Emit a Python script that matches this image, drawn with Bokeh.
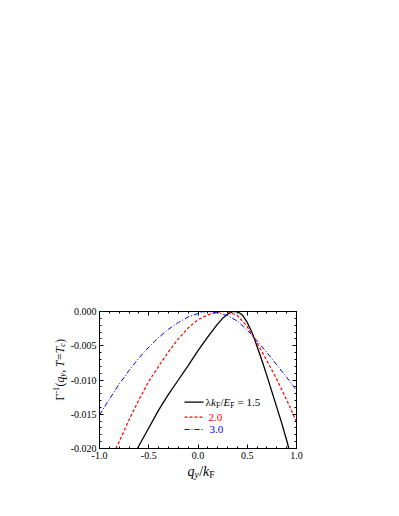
import math
from bokeh.plotting import figure
from bokeh.models import (Range1d, LinearAxis, SingleIntervalTicker, PrintfTickFormatter,
                          Label, Arrow)
from bokeh.embed import file_html
from bokeh.resources import INLINE

# ---------------- data ----------------
x_15 = [-0.614, -0.6, -0.5, -0.4, -0.3, -0.2, -0.1, 0.0, 0.1, 0.2, 0.25, 0.3, 0.35, 0.38, 0.41,
        0.44, 0.46, 0.50, 0.55, 0.60, 0.65, 0.70, 0.75, 0.80, 0.85, 0.90, 0.922]
y_15 = [-0.0200, -0.0196, -0.0170, -0.0144, -0.0121, -0.0100, -0.0079, -0.0057, -0.0037, -0.0018,
        -0.0010, -0.0004, -0.00003, 0.0, -0.0001, -0.0004, -0.0007, -0.0016, -0.0031, -0.0051,
        -0.0072, -0.0094, -0.0117, -0.0140, -0.0163, -0.0188, -0.0200]

x_20 = [-0.834, -0.8, -0.7, -0.6, -0.5, -0.4, -0.3, -0.2, -0.1, 0.0, 0.1, 0.2, 0.28, 0.3, 0.4,
        0.5, 0.6, 0.7, 0.8, 0.9, 1.0]
y_20 = [-0.0200, -0.0190, -0.0158, -0.0129, -0.0102, -0.0080, -0.0059, -0.0040, -0.0024, -0.0012,
        -0.0005, -0.0001, 0.0, -0.00002, -0.0006, -0.0022, -0.0046, -0.0072, -0.0099, -0.0129,
        -0.0161]

x_30 = [-1.0, -0.9, -0.8, -0.7, -0.6, -0.5, -0.4, -0.3, -0.2, -0.1, 0.0, 0.08, 0.2, 0.3, 0.4,
        0.5, 0.6, 0.7, 0.8, 0.9, 1.0]
y_30 = [-0.0151, -0.0128, -0.0106, -0.0086, -0.0068, -0.0052, -0.0038, -0.0026, -0.0016, -0.0008,
        -0.0003, 0.0, -0.0002, -0.0006, -0.0014, -0.0027, -0.0043, -0.0060, -0.0078, -0.0096,
        -0.0115]

legend_values = ["1.5", "2.0", "3.0"]
x_tick_interval = 0.5
y_tick_interval = 0.005
XMIN, XMAX = -1.0, 1.0
YMIN, YMAX = -0.020, 0.0

# ---------------- layout ----------------
ML, MR, MT, MB = 99, 90, 311, 60
FW, FH = 197, 137
W, H = ML + FW + MR, MT + FH + MB
FONT = "Liberation Serif"

p = figure(width=W, height=H, output_backend="svg", toolbar_location=None,
           x_range=Range1d(XMIN, XMAX), y_range=Range1d(YMIN, YMAX),
           min_border_left=ML, min_border_right=MR, min_border_top=MT, min_border_bottom=MB)
p.background_fill_color = "white"
p.border_fill_color = "white"
p.outline_line_color = "black"
p.outline_line_width = 1
p.xgrid.visible = False
p.ygrid.visible = False

xt = SingleIntervalTicker(interval=x_tick_interval, num_minor_ticks=5)
yt = SingleIntervalTicker(interval=y_tick_interval, num_minor_ticks=5)


def style_axis(ax, ticker, fmt, show_labels):
    ax.ticker = ticker
    ax.formatter = PrintfTickFormatter(format=fmt)
    ax.axis_line_color = "black"
    ax.major_tick_line_color = "black"
    ax.minor_tick_line_color = "black"
    ax.major_tick_in = 4
    ax.major_tick_out = 0
    ax.minor_tick_in = 2
    ax.minor_tick_out = 0
    ax.major_label_text_font = FONT
    ax.major_label_text_font_size = "10px" if show_labels else "0px"
    ax.major_label_text_color = "black" if show_labels else None
    ax.major_label_standoff = 3
    ax.axis_label = None


style_axis(p.xaxis[0], xt, "%.1f", True)
style_axis(p.yaxis[0], yt, "%.3f", True)
top_ax = LinearAxis()
right_ax = LinearAxis()
style_axis(top_ax, xt, "%.1f", False)
style_axis(right_ax, yt, "%.3f", False)
p.add_layout(top_ax, "above")
p.add_layout(right_ax, "right")

# ---------------- curves ----------------
p.line(x_15, y_15, line_color="black", line_width=1.3)
p.line(x_20, y_20, line_color="#ff0000", line_width=1.2, line_dash="3 2")
p.line(x_30, y_30, line_color="#0000ff", line_width=1.0, line_dash="5 2 1 2")

# ---------------- rich text helper ----------------
REG = {c: 500 for c in "0123456789"}
REG.update({".": 250, "-": 333, "(": 333, ")": 333, ",": 250, " ": 250, "=": 564, "/": 278,
            "Γ": 578, "λ": 500, "F": 556})
ITA = {"q": 500, "y": 444, "k": 444, "E": 611, "F": 611, "T": 556, "c": 444}


def text_width(t, italic, size):
    table = ITA if italic else REG
    return sum(table.get(ch, REG.get(ch, 500)) for ch in t) / 1000.0 * size


def rich(pieces, x0, y0, angle=0.0, color="black", place="center"):
    """Each piece: (text, italic, size, baseline shift, extra gap before)."""
    pos = 0.0
    for t, italic, size, shift, gap in pieces:
        pos += gap
        if angle == 0:
            xo, yo = x0 + pos, y0 + shift
        else:
            xo, yo = x0 - shift, y0 + pos
        lbl = Label(x=XMIN, y=YMIN, x_offset=xo, y_offset=yo, text=t,
                    text_font=FONT, text_font_style="italic" if italic else "normal",
                    text_font_size=f"{size}px", text_baseline="middle", text_align="left",
                    angle=angle, text_color=color)
        p.add_layout(lbl, place)
        pos += text_width(t, italic, size)


# x axis title  q_y / k_F   (kept in the roomy top panel so it is not clipped)
rich([("q", True, 14, 0, 0), ("y", True, 9.5, -3.5, 0), ("/", False, 14, 0, 0.5),
      ("k", True, 14, 0, 0), ("F", False, 9.5, -3.5, 0)], 88, -23, place="above")

# y axis title  Γ^-1(q_y, T=T_c)
S = 11.5
s = 8
rich([("Γ", False, S, 0, 0), ("-1", False, s, 3.5, 0.3), ("(", False, S, 0, 0.5),
      ("q", True, S, 0, 0), ("y", True, s, -3, 0), (",", False, S, 0, 0.5),
      ("T", True, S, 0, 3), ("=", False, S, 0, 0.5), ("T", True, S, 0, 0.3),
      ("c", True, s, -3, 0), (")", False, S, 0, 0.5)],
     -40, 48, angle=math.pi / 2, place="above")

# ---------------- legend ----------------
def px_x(off):
    return XMIN + off / FW * (XMAX - XMIN)


def px_y(off):
    return YMIN + off / FH * (YMAX - YMIN)


leg_rows = [46.3, 31.3, 19.0]
leg_styles = [("black", 1.3, "solid"), ("#ff0000", 1.2, "3 2"), ("#0000ff", 1.1, "5 2 1 2")]
for row, (col, lw, dash), val in zip(leg_rows, leg_styles, legend_values):
    p.add_layout(Arrow(end=None, x_start=px_x(85), y_start=px_y(row), x_end=px_x(104),
                       y_end=px_y(row), line_color=col, line_width=lw, line_dash=dash))

rich([("λ", False, 11, 0, 0), ("k", True, 11, 0, 0), ("F", False, 7.5, -3, 0),
      ("/", False, 11, 0, 0.5), ("E", True, 11, 0, 0), ("F", False, 7.5, -3, 0),
      ("= " + legend_values[0], False, 11, 0, 3)],
     106, leg_rows[0])
rich([(legend_values[1], False, 11, 0, 0)], 109, leg_rows[1], color="#ff0000")
rich([(legend_values[2], False, 11, 0, 0)], 110, leg_rows[2], color="#0000ff")

open("out.html", "w").write(file_html(p, INLINE))
